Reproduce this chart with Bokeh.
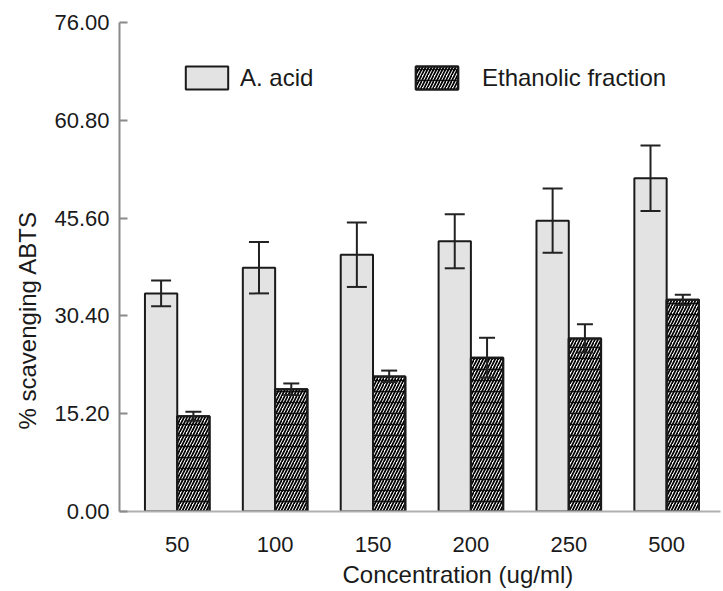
from bokeh.plotting import figure
from bokeh.models import (ColumnDataSource, Whisker, TeeHead, FixedTicker, Legend, LegendItem,
                          PrintfTickFormatter, Title, Range1d)
from bokeh.embed import file_html
from bokeh.resources import INLINE

# ---- data ----
concentrations = ["50", "100", "150", "200", "250", "500"]
a_acid = [33.9, 37.9, 39.9, 42.0, 45.2, 51.8]
a_acid_err = [2.0, 4.0, 5.0, 4.2, 5.0, 5.1]
ethanolic = [14.8, 19.0, 21.0, 23.9, 26.9, 32.9]
ethanolic_err = [0.7, 0.9, 0.9, 3.1, 2.2, 0.8]
y_ticks = [0.0, 15.2, 30.4, 45.6, 60.8, 76.0]

FONT = "Liberation Sans"
idx = list(range(len(concentrations)))
off = 0.165
bw = 0.33

src_a = ColumnDataSource(dict(
    x=[i - off for i in idx], top=a_acid,
    upper=[v + e for v, e in zip(a_acid, a_acid_err)],
    lower=[v - e for v, e in zip(a_acid, a_acid_err)]))
src_e = ColumnDataSource(dict(
    x=[i + off for i in idx], top=ethanolic,
    upper=[v + e for v, e in zip(ethanolic, ethanolic_err)],
    lower=[v - e for v, e in zip(ethanolic, ethanolic_err)]))

p = figure(width=723, height=591, output_backend="svg", toolbar_location=None,
           x_range=Range1d(-0.59, 5.55), y_range=Range1d(0, 76),
           min_border_left=119, min_border_right=3, min_border_top=22, min_border_bottom=80)
p.outline_line_color = None
p.xgrid.visible = False
p.ygrid.visible = False

ra = p.vbar(x="x", top="top", width=bw, source=src_a, fill_color="#e3e3e3",
            line_color="#1a1a1a", line_width=2)
re1 = p.vbar(x="x", top="top", width=bw, source=src_e, fill_color="white",
             hatch_pattern="/", hatch_color="black", hatch_scale=6, hatch_weight=1.7,
             line_color="#1a1a1a", line_width=2)
re2 = p.vbar(x="x", top="top", width=bw, source=src_e, fill_alpha=0,
             hatch_pattern="-", hatch_color="black", hatch_scale=11, hatch_weight=1.5,
             hatch_alpha=0.85, line_color="#1a1a1a", line_width=2)

wa = Whisker(base="x", upper="upper", lower="lower", source=src_a, level="overlay",
             line_color="#222222", line_width=2,
             upper_head=TeeHead(size=20, line_color="#222222", line_width=2),
             lower_head=TeeHead(size=20, line_color="#222222", line_width=2))
we = Whisker(base="x", upper="upper", lower="lower", source=src_e, level="overlay",
             line_color="#222222", line_width=2,
             upper_head=TeeHead(size=16, line_color="#222222", line_width=2),
             lower_head=TeeHead(size=16, line_color="#222222", line_width=2))
p.add_layout(wa)
p.add_layout(we)

# y axis
ya = p.yaxis[0]
ya.ticker = FixedTicker(ticks=y_ticks)
ya.formatter = PrintfTickFormatter(format="%.2f")
ya.major_tick_in = 8
ya.major_tick_out = 0
ya.minor_tick_line_color = None
ya.axis_line_color = "#8a8a8a"
ya.axis_line_width = 2
ya.major_tick_line_color = "#8a8a8a"
ya.major_tick_line_width = 2
ya.major_label_text_font = FONT
ya.major_label_text_font_size = "22px"
ya.major_label_text_color = "#1a1a1a"
ya.major_label_standoff = 10

# x axis
xa = p.xaxis[0]
xa.ticker = FixedTicker(ticks=idx)
xa.major_label_overrides = {i: c for i, c in zip(idx, concentrations)}
xa.major_tick_in = 0
xa.major_tick_out = 0
xa.minor_tick_line_color = None
xa.axis_line_color = "#b0b0b0"
xa.axis_line_width = 2
xa.major_label_text_font = FONT
xa.major_label_text_font_size = "22px"
xa.major_label_text_color = "#1a1a1a"
xa.major_label_standoff = 25

ty = Title(text="% scavenging ABTS", align="left", offset=82, standoff=22,
           text_font=FONT, text_font_size="24px", text_font_style="normal",
           text_color="#1a1a1a")
p.add_layout(ty, "left")
tx = Title(text="Concentration (ug/ml)", align="left", offset=223, standoff=8,
           text_font=FONT, text_font_size="24px", text_font_style="normal",
           text_color="#1a1a1a")
p.add_layout(tx, "below")

leg1 = Legend(items=[LegendItem(label="A. acid", renderers=[ra])],
              location=(61, 419), orientation="horizontal", padding=0, margin=0,
              glyph_width=53, glyph_height=29, label_standoff=7,
              label_text_font=FONT, label_text_font_size="24px", label_text_color="#1a1a1a",
              border_line_color=None, background_fill_alpha=0)
leg2 = Legend(items=[LegendItem(label="Ethanolic fraction", renderers=[re1, re2])],
              location=(291, 419), orientation="horizontal", padding=0, margin=0,
              glyph_width=53, glyph_height=29, label_standoff=19,
              label_text_font=FONT, label_text_font_size="24px", label_text_color="#1a1a1a",
              border_line_color=None, background_fill_alpha=0)
p.add_layout(leg1)
p.add_layout(leg2)

open("out.html", "w").write(file_html(p, INLINE))
